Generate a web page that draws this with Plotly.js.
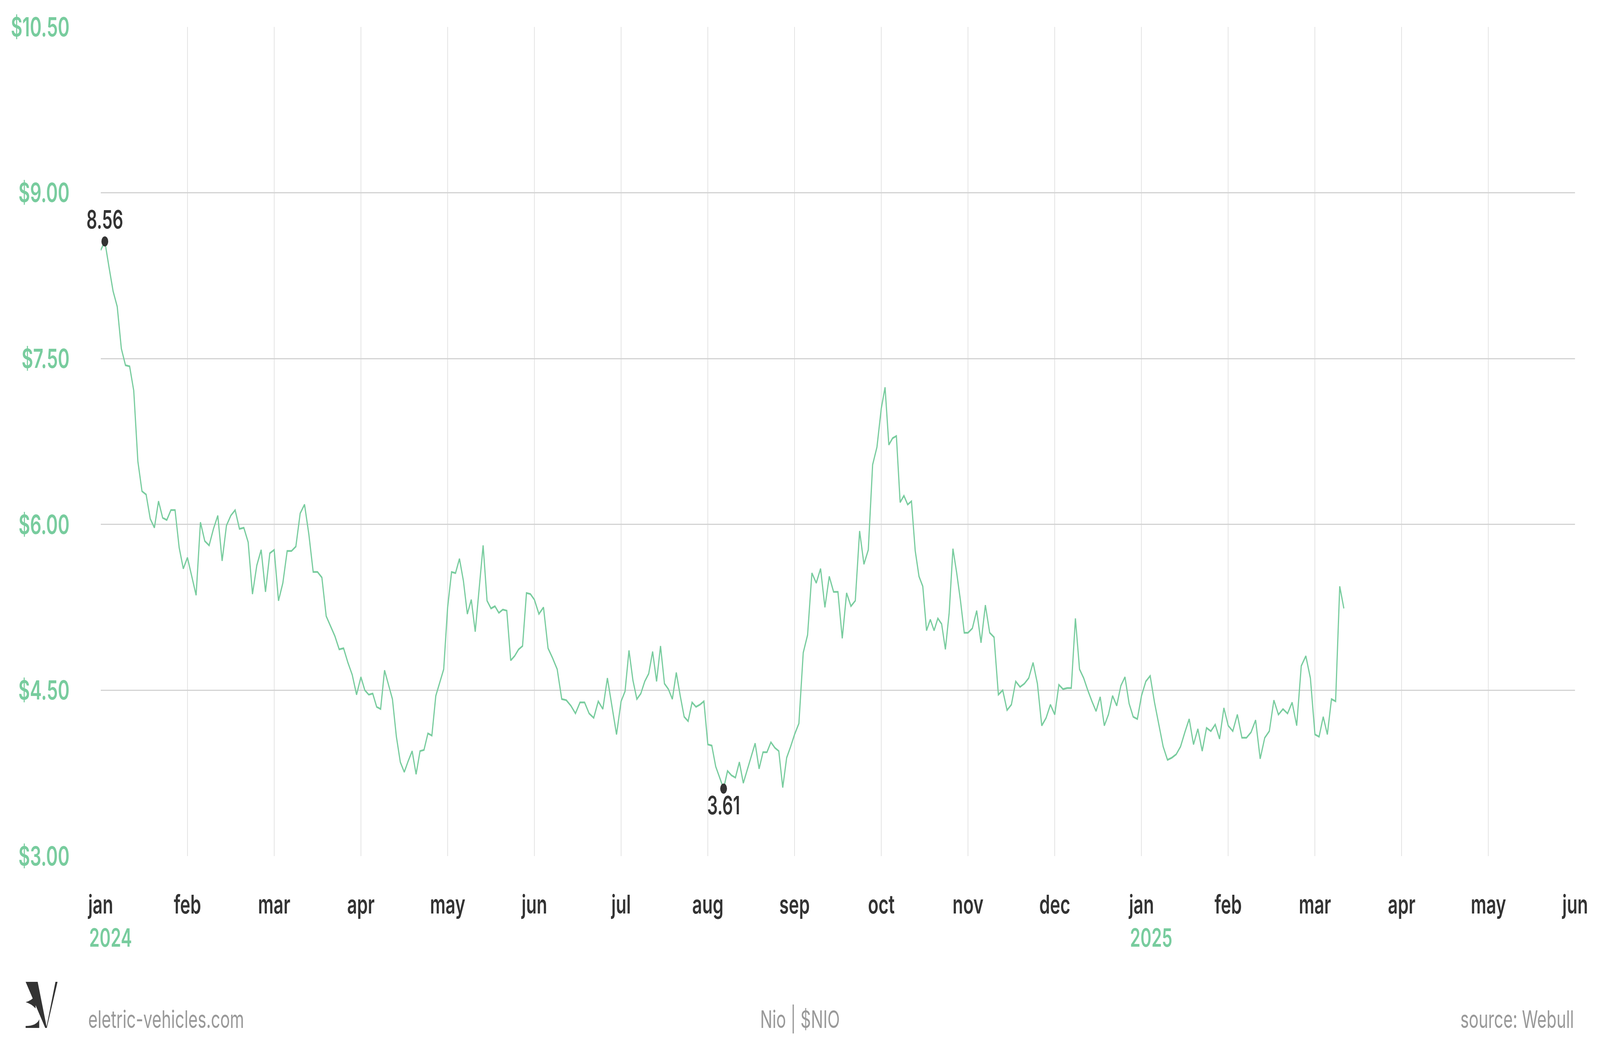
<!DOCTYPE html>
<html>
<head>
<meta charset="utf-8">
<script src="https://cdn.plot.ly/plotly-3.0.1.min.js"></script>
<style>
  html, body { margin: 0; padding: 0; background: #ffffff; overflow: hidden; }
  #myChart { width: 6117px; height: 2709px; transform-origin: 0 0; }
</style>
</head>
<body>
<div id="myChart"></div>
<script>
// NIO | $NIO daily close, jan 2024 - mar 2025

const monthLabels = ["jan", "feb", "mar", "apr", "may", "jun", "jul", "aug", "sep", "oct", "nov", "dec",
                     "jan", "feb", "mar", "apr", "may", "jun"];
const yearLabels = ["2024", "2025"];
const yearMonth = [0, 12];

// trading sessions in each month, every month gets the same width on the axis
const tradingDays = [21, 20, 20, 22, 22, 19, 22, 22, 20, 23, 20, 21, 20, 19, 21];

const closes = [
  // jan 2024
  8.48, 8.56, 8.33, 8.11, 7.97, 7.59, 7.44, 7.43, 7.21, 6.57, 6.30, 6.27, 6.05, 5.97, 6.21, 6.06, 6.04, 6.13, 6.13, 5.79, 5.60,
  // feb
  5.70, 5.53, 5.36, 6.02, 5.85, 5.81, 5.96, 6.08, 5.67, 5.99, 6.08, 6.13, 5.96, 5.97, 5.84, 5.37, 5.63, 5.77, 5.39, 5.74,
  // mar
  5.77, 5.31, 5.47, 5.76, 5.76, 5.80, 6.10, 6.18, 5.91, 5.57, 5.57, 5.52, 5.17, 5.08, 4.99, 4.87, 4.88, 4.75, 4.64, 4.46,
  // apr
  4.62, 4.50, 4.46, 4.47, 4.35, 4.33, 4.68, 4.55, 4.42, 4.08, 3.85, 3.76, 3.86, 3.95, 3.74, 3.95, 3.96, 4.11, 4.09, 4.45, 4.57, 4.69,
  // may
  5.25, 5.57, 5.56, 5.69, 5.49, 5.19, 5.32, 5.03, 5.42, 5.81, 5.31, 5.24, 5.26, 5.20, 5.23, 5.22, 4.77, 4.81, 4.87, 4.90, 5.38, 5.37,
  // jun
  5.32, 5.19, 5.25, 4.88, 4.79, 4.69, 4.42, 4.41, 4.36, 4.29, 4.39, 4.39, 4.29, 4.25, 4.40, 4.33, 4.61, 4.36, 4.10,
  // jul
  4.40, 4.49, 4.86, 4.59, 4.42, 4.47, 4.58, 4.65, 4.85, 4.58, 4.90, 4.56, 4.51, 4.42, 4.66, 4.45, 4.26, 4.22, 4.39, 4.35, 4.37, 4.40,
  // aug
  4.01, 4.00, 3.81, 3.71, 3.61, 3.77, 3.73, 3.71, 3.85, 3.66, 3.78, 3.90, 4.02, 3.79, 3.94, 3.94, 4.03, 3.98, 3.95, 3.62, 3.89, 3.99,
  // sep
  4.10, 4.20, 4.84, 5.00, 5.56, 5.47, 5.60, 5.25, 5.53, 5.39, 5.39, 4.97, 5.38, 5.26, 5.31, 5.94, 5.64, 5.77, 6.54, 6.70,
  // oct
  7.05, 7.24, 6.72, 6.78, 6.80, 6.20, 6.26, 6.18, 6.21, 5.76, 5.53, 5.44, 5.04, 5.14, 5.04, 5.15, 5.10, 4.87, 5.20, 5.78, 5.56, 5.31, 5.02,
  // nov
  5.02, 5.06, 5.22, 4.93, 5.27, 5.02, 4.98, 4.46, 4.50, 4.32, 4.37, 4.58, 4.53, 4.56, 4.61, 4.75, 4.56, 4.18, 4.25, 4.37,
  // dec
  4.28, 4.55, 4.51, 4.52, 4.52, 5.15, 4.69, 4.61, 4.50, 4.40, 4.31, 4.44, 4.18, 4.28, 4.45, 4.36, 4.54, 4.62, 4.38, 4.26, 4.24,
  // jan 2025
  4.45, 4.58, 4.63, 4.39, 4.19, 3.99, 3.87, 3.89, 3.92, 3.99, 4.12, 4.24, 4.01, 4.15, 3.95, 4.16, 4.13, 4.19, 4.06, 4.34,
  // feb
  4.18, 4.13, 4.28, 4.07, 4.07, 4.12, 4.23, 3.88, 4.07, 4.13, 4.41, 4.28, 4.33, 4.29, 4.39, 4.18, 4.72, 4.81, 4.61,
  // mar (partial)
  4.10, 4.08, 4.26, 4.10, 4.42, 4.40, 5.44, 5.24
];

const yTicks = [3, 4.5, 6, 7.5, 9, 10.5];

const GREEN = "#78cc9e";
const DARK = "#333333";
const GREY = "#999999";
const FONT = "Inter, 'Noto Sans', sans-serif";

// chart drawn at its design size, then fitted to the window
const W = 6117, H = 2709;
const L = 385, R = 6022, T = 69, B = 2192;

var chartDiv = document.getElementById("myChart");
var fitX = window.innerWidth / W, fitY = window.innerHeight / H;
chartDiv.style.transform = "scale(" + fitX + "," + fitY + ")";

// position of every session: month index + share of the month
var xs = [];
var m = 0, k = 0;
for (let i = 0; i < closes.length; i++) {
  xs.push(m + k / tradingDays[m]);
  k++;
  if (k === tradingDays[m]) { m++; k = 0; }
}

var iMax = closes.indexOf(Math.max(...closes));
var iMin = closes.indexOf(Math.min(...closes));

var trace1 = {
  x: xs,
  y: closes,
  mode: "lines",
  type: "scatter",
  line: { color: GREEN, width: 4.5 },
  hoverinfo: "skip"
};

var trace2 = {
  x: [xs[iMax], xs[iMin]],
  y: [closes[iMax], closes[iMin]],
  mode: "markers+text",
  type: "scatter",
  text: [closes[iMax].toFixed(2), closes[iMin].toFixed(2)],
  textposition: ["top center", "bottom center"],
  textfont: { family: FONT, size: 64, color: DARK, weight: 600 },
  marker: { color: DARK, size: 26 },
  cliponaxis: false,
  hoverinfo: "skip"
};

// page pixels -> paper fraction
function px(x, y) {
  return ((x - L) / (R - L)).toFixed(5) + "," + ((B - y) / (B - T)).toFixed(5);
}

// EV logo, bottom left
var logoPaths = [
  "M" + px(98, 2514) + " L" + px(144, 2514) + " L" + px(179, 2632) + " L" + px(173, 2632) + " Z",
  "M" + px(212, 2514) + " L" + px(220, 2514) + " L" + px(179, 2632) + " L" + px(177, 2632) + " Z",
  "M" + px(98, 2566) + " Q" + px(120, 2562) + " " + px(136, 2550) + " L" + px(136, 2582) + " Q" + px(120, 2570) + " " + px(98, 2566) + " Z",
  "M" + px(98, 2632) + " L" + px(150, 2632) + " L" + px(150, 2610) + " Q" + px(140, 2627) + " " + px(98, 2627) + " Z"
];

var shapes = logoPaths.map(function (p) {
  return { type: "path", xref: "paper", yref: "paper", path: p, fillcolor: DARK, line: { width: 0 } };
});

var annotations = [];
for (let j = 0; j < yearLabels.length; j++) {
  annotations.push({
    x: yearMonth[j], y: (B - 2400) / (B - T), xref: "x", yref: "paper",
    text: yearLabels[j], showarrow: false, xanchor: "left", yanchor: "middle", xshift: -46,
    font: { family: FONT, size: 64, color: GREEN, weight: 600 }
  });
}

var footY = (B - 2609) / (B - T);
annotations.push(
  { x: (335 - L) / (R - L), y: footY, xref: "paper", yref: "paper", text: "eletric-vehicles.com",
    showarrow: false, xanchor: "left", yanchor: "middle", font: { family: FONT, size: 62, color: GREY } },
  { x: (3058 - L) / (R - L), y: footY, xref: "paper", yref: "paper", text: "Nio | $NIO",
    showarrow: false, xanchor: "center", yanchor: "middle", font: { family: FONT, size: 62, color: GREY } },
  { x: (6019 - L) / (R - L), y: footY, xref: "paper", yref: "paper", text: "source: Webull",
    showarrow: false, xanchor: "right", yanchor: "middle", font: { family: FONT, size: 62, color: GREY } }
);

var layout = {
  width: W,
  height: H,
  margin: { l: L, r: W - R, t: T, b: H - B, pad: 0 },
  paper_bgcolor: "#ffffff",
  plot_bgcolor: "#ffffff",
  showlegend: false,
  font: { family: FONT },
  xaxis: {
    range: [0, monthLabels.length - 1],
    tickmode: "array",
    tickvals: monthLabels.map(function (_, i) { return i; }),
    ticktext: monthLabels,
    showgrid: true,
    gridcolor: "#e4e4e4",
    gridwidth: 3,
    zeroline: false,
    showline: false,
    ticks: "",
    ticklabelstandoff: 80,
    tickfont: { family: FONT, size: 66, color: DARK, weight: 600 },
    fixedrange: true
  },
  yaxis: {
    range: [3, 10.5],
    tickmode: "array",
    tickvals: yTicks,
    ticktext: yTicks.map(function (v) { return "$" + v.toFixed(2); }),
    showgrid: true,
    gridcolor: "#d3d3d3",
    gridwidth: 3,
    zeroline: false,
    showline: false,
    ticks: "",
    ticklabelstandoff: 118,
    tickfont: { family: FONT, size: 68, color: GREEN, weight: 600 },
    fixedrange: true
  },
  shapes: shapes,
  annotations: annotations
};

Plotly.newPlot("myChart", [trace1, trace2], layout, { staticPlot: true, displayModeBar: false });
</script>
</body>
</html>
